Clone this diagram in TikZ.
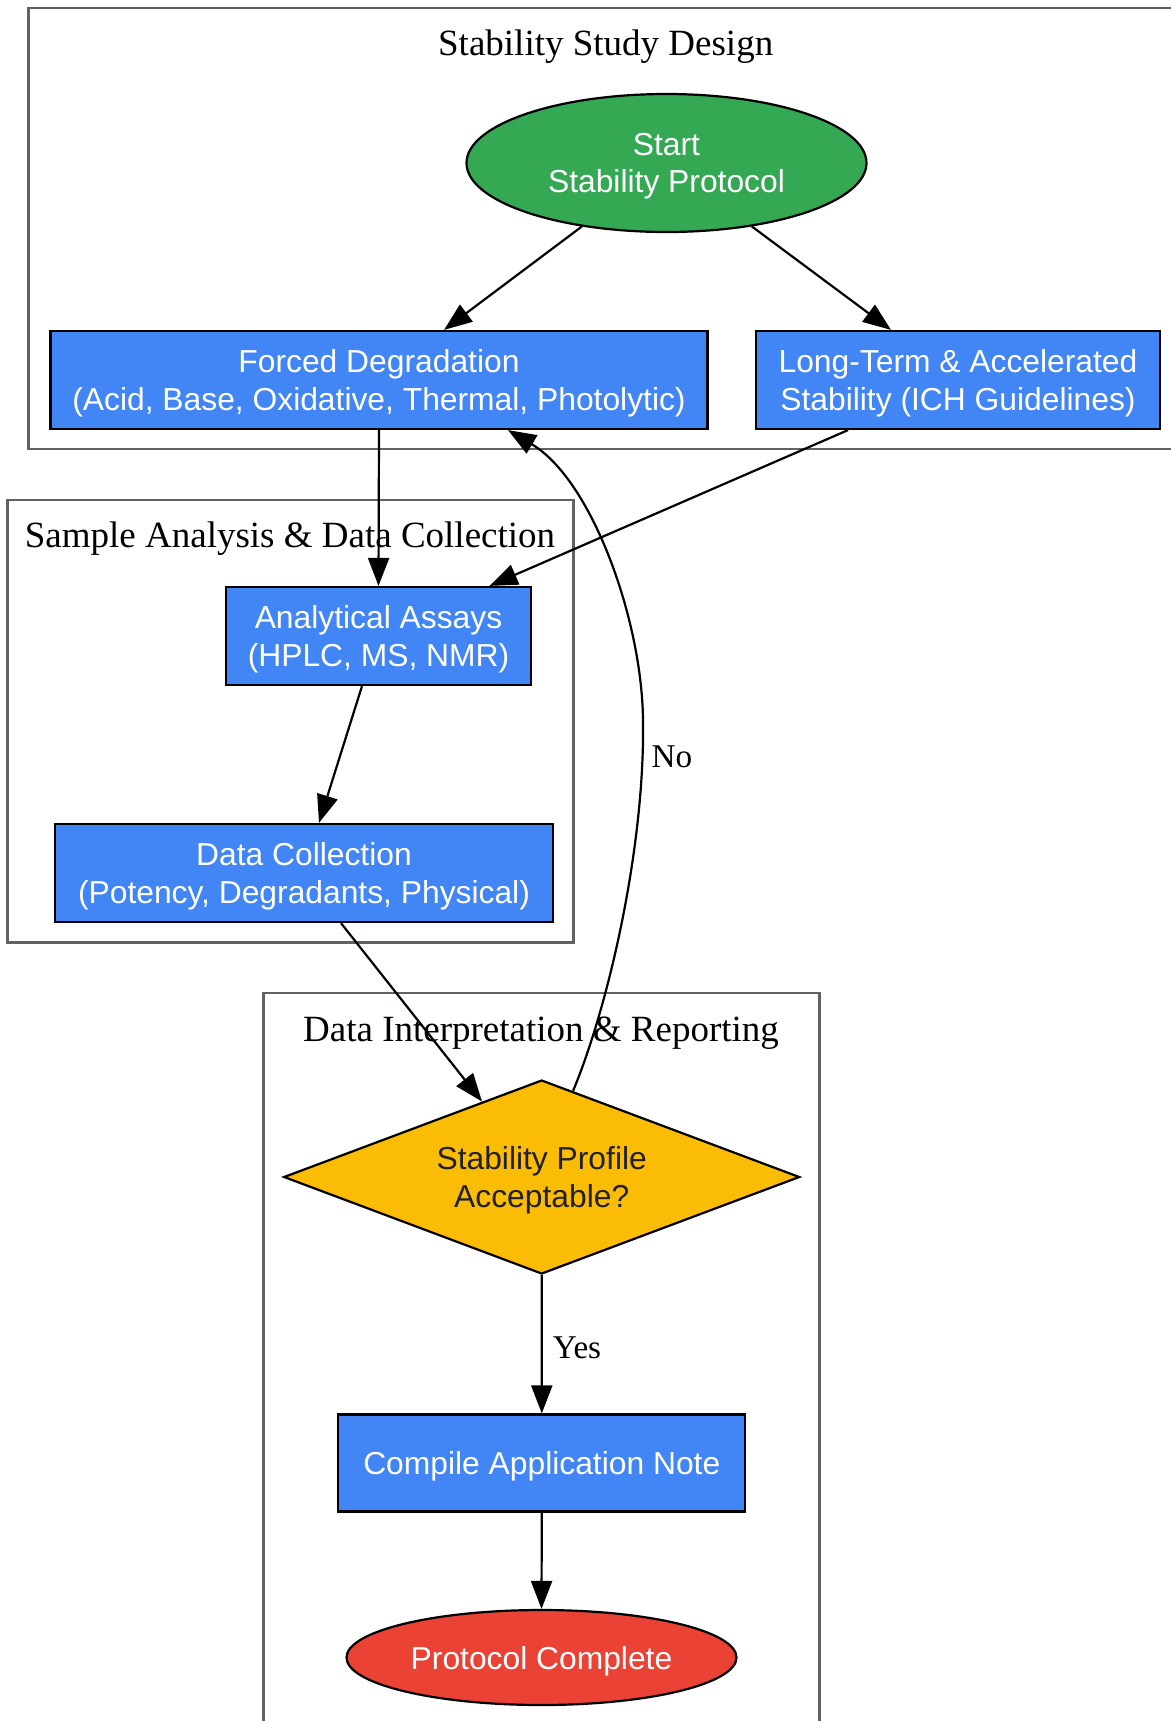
\documentclass[tikz,border=0pt]{standalone}
\usepackage{fontspec}
\setmainfont{Liberation Serif}
\newfontfamily\arialfam{Liberation Sans}
\usetikzlibrary{shapes.geometric,arrows.meta}
\definecolor{ggreen}{HTML}{34A853}
\definecolor{gblue}{HTML}{4285F4}
\definecolor{gyellow}{HTML}{FBBC05}
\definecolor{gred}{HTML}{EA4335}
\definecolor{gdark}{HTML}{202124}
\definecolor{ggray}{HTML}{5F6368}
\newcommand\nodefnt{\arialfam\fontsize{15.9}{18.8}\selectfont}
\newcommand\titlefnt{\fontsize{18.5}{21}\selectfont}
\newcommand\edgefnt{\fontsize{16.6}{19}\selectfont}
\tikzset{
  base/.style={draw=black, line width=1.1pt, inner sep=0pt, align=center, font=\nodefnt, text depth=0pt},
  procbox/.style={base, rectangle, fill=gblue, text=white, minimum height=49pt},
  termnode/.style={base, ellipse, text=white},
  decnode/.style={base, diamond, aspect=2.66, fill=gyellow, text=gdark},
  cluster/.style={draw=ggray, line width=1.1pt},
  ctitle/.style={font=\titlefnt, inner sep=0pt},
  elabel/.style={font=\edgefnt, inner sep=0pt},
  arr/.style={-{Triangle[length=14pt,width=10.5pt]}, line width=1.1pt, draw=black}
}
\begin{document}
\begin{tikzpicture}[x=0.5pt,y=-0.5pt]
\useasboundingbox (0,0) rectangle (1171,1721);
\clip (0,0) rectangle (1171,1721);
\fill[white] (0,0) rectangle (1171,1721);
% clusters
\draw[cluster] (28.5,8) rectangle (1200,449);
\draw[cluster] (7.5,500) rectangle (573.5,942.5);
\draw[cluster] (263.5,993) rectangle (819.5,1760);
\node[ctitle] (t1) at (605.7,46.3) {Stability Study Design};
\node[ctitle] (t2) at (290,538.3) {Sample Analysis \& Data Collection};
\node[ctitle] (t3) at (541,1033.3) {Data Interpretation \& Reporting};
% nodes
\node[termnode, fill=ggreen, minimum width=200pt, minimum height=69pt] (start) at (666.5,163) {Start\\Stability Protocol};
\node[procbox, minimum width=328.5pt] (forced) at (379,380) {Forced Degradation\\(Acid, Base, Oxidative, Thermal, Photolytic)};
\node[procbox, minimum width=201.75pt] (long) at (958,380) {Long-Term \& Accelerated\\Stability (ICH Guidelines)};
\node[procbox, minimum width=152.5pt] (assay) at (378.5,636) {Analytical Assays\\(HPLC, MS, NMR)};
\node[procbox, minimum width=249pt] (data) at (304,873) {Data Collection\\(Potency, Degradants, Physical)};
\node[decnode, minimum width=258pt, minimum height=97pt] (dec) at (541.7,1177) {Stability Profile\\Acceptable?};
\node[procbox, minimum width=203.5pt, minimum height=48.5pt] (compile) at (541.8,1463) {Compile Application Note};
\node[termnode, fill=gred, minimum width=195pt, minimum height=47.5pt] (done) at (541.5,1657.5) {Protocol Complete};
% edges
\draw[arr] (start) -- ([xshift=32.5pt]forced.north);
\draw[arr] (start) -- ([xshift=-33.5pt]long.north);
\draw[arr] (forced.south) -- (assay.north);
\draw[arr] ([xshift=-55pt]long.south) -- ([xshift=55.5pt]assay.north);
\draw[arr] ([xshift=-8.25pt]assay.south) -- ([xshift=7.5pt]data.north);
\draw[arr] ([xshift=18.5pt]data.south) -- (dec);
\draw[arr] (dec.70) .. controls (607,1010) and (645,850) .. (643,720)
                     .. controls (642,620) and (592,480) .. ([xshift=64.5pt]forced.south);
\draw[arr] (dec.south) -- (compile.north);
\draw[arr] (compile.south) -- (done.north);
% edge labels
\node[elabel] (nolab) at (672,757) {No};
\node[elabel] (yeslab) at (577,1348) {Yes};
\end{tikzpicture}
\end{document}
